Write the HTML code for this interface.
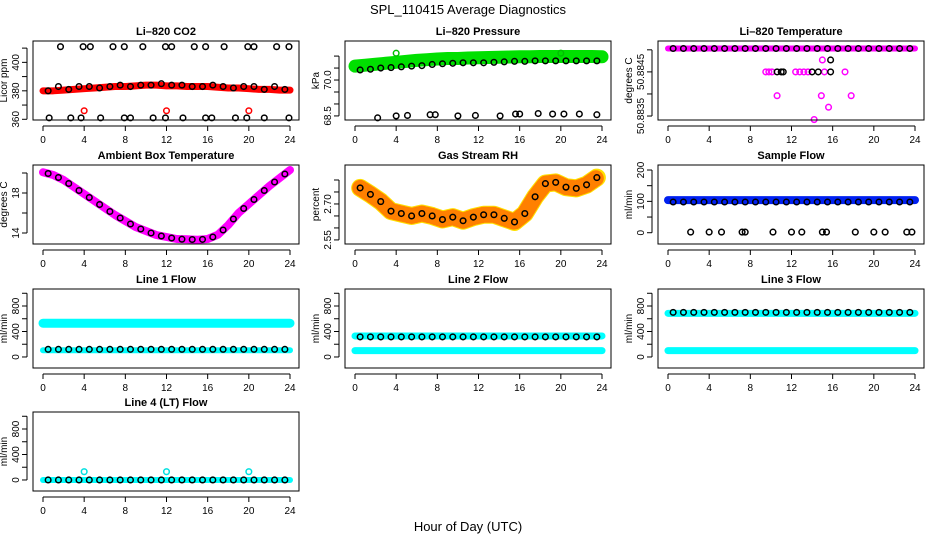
<!DOCTYPE html>
<html><head><meta charset="utf-8"><style>
html,body{margin:0;padding:0;background:#fff}
svg{display:block;font-family:"Liberation Sans",Arial,sans-serif}
</style></head><body>
<svg id="chart" width="936" height="540" viewBox="0 0 936 540">
<rect x="0" y="0" width="936" height="540" fill="#fff"/>
<text x="468" y="14" text-anchor="middle" font-size="13">SPL_110415  Average Diagnostics</text>
<text x="468" y="531" text-anchor="middle" font-size="13">Hour of Day (UTC)</text>
</svg>
<script>
// ---- data ----
const hoursBand = [0,1,2,3,4,5,6,7,8,9,10,11,12,13,14,15,16,17,18,19,20,21,22,23,24];
const hoursPts = [0.5,1.5,2.5,3.5,4.5,5.5,6.5,7.5,8.5,9.5,10.5,11.5,12.5,13.5,14.5,15.5,16.5,17.5,18.5,19.5,20.5,21.5,22.5,23.5];
const xTicks = [0,4,8,12,16,20,24];

const co2Band = [380,380,380.5,381,381.5,382,382.5,383,383,383.5,384,384,383.5,383.5,383,383,383,382.5,382,382,381.5,381,381,380.5,380.5];
const co2Pts = [380,383,381,383,383,382,383,384,383,384,384,385,384,384,383,383,384,383,382,383,383,381,383,381];
const co2HighHours = [1.7,3.9,4.6,6.8,7.9,9.7,11.9,12.5,14.7,15.8,17.6,19.9,20.5,22.7,23.9];
const co2HighVal = [411];
const co2LowHours = [0.6,2.7,3.7,5.6,7.9,8.5,10.7,11.9,13.6,15.8,16.4,18.7,19.8,21.5,23.9];
const co2LowVal = [361];
const co2RedHours = [4,12,20];
const co2RedVal = [366];

const presBand = [70.58,70.62,70.66,70.7,70.74,70.78,70.82,70.85,70.88,70.9,70.9,70.92,70.93,70.94,70.95,70.96,70.97,70.97,70.98,70.98,70.98,70.98,70.98,70.98,70.97];
const presPts = [70.42,70.45,70.5,70.52,70.55,70.58,70.6,70.65,70.68,70.7,70.72,70.72,70.72,70.74,70.76,70.78,70.78,70.8,70.8,70.8,70.8,70.8,70.8,70.8];
const presLowHours = [2.2,4,5.1,7.3,7.8,10,11.7,14.1,15.6,16,17.8,19.2,20.3,21.8,23.5];
const presLowVals = [68.42,68.5,68.52,68.55,68.55,68.5,68.52,68.5,68.58,68.58,68.6,68.58,68.58,68.58,68.55];
const presGreenHours = [4,20];
const presGreenVals = [71.12,71.12];

const tempTop = [50.88503];
const tempMagHours = [9.5,9.8,10.1,12.4,12.8,13.2,13.6,15.2,17.2,15,10.6,14.9,17.8,15.6,14.2];
const tempMagVals = [50.8845,50.8845,50.8845,50.8845,50.8845,50.8845,50.8845,50.8845,50.8845,50.88477,50.88396,50.88396,50.88396,50.8837,50.88342];
const tempBlkHours = [10.6,11,11.2,14,14.6,15.8,15.8];
const tempBlkVals = [50.8845,50.8845,50.8845,50.8845,50.8845,50.8845,50.88477];

const ambBand = [20.07,19.8,19.3,18.6,17.9,17.2,16.5,15.8,15.2,14.6,14.2,13.8,13.6,13.4,13.37,13.33,13.4,13.83,14.8,16,16.9,17.8,18.7,19.5,20.3];
const ambPts = [19.95,19.55,18.95,18.25,17.55,16.85,16.15,15.5,14.9,14.4,14.0,13.7,13.5,13.38,13.35,13.36,13.6,14.3,15.4,16.45,17.35,18.25,19.1,19.9];

const rhPts = [2.767,2.74,2.71,2.67,2.66,2.65,2.66,2.65,2.635,2.645,2.63,2.645,2.655,2.655,2.64,2.625,2.66,2.73,2.785,2.79,2.77,2.765,2.78,2.81];

const sampleBand = [104];
const samplePts = [98];
const sampleZeroHours = [2.2,4,5.2,7.2,7.5,10.2,12,13,15,15.4,18.2,20,21.1,23.2,23.7];
const sampleZeroVal = [2];

const line1Cyan = [530];
const line1CyanLow = [105];
const line1Black = [120];
const line2Cyan = [330];
const line2CyanLow = [100];
const line2Black = [315];
const line3Cyan = [685];
const line3CyanLow = [100];
const line3Black = [700];
const line4Cyan = [0];
const line4Black = [0];
const line4SpikeHours = [4,12,20];
const line4SpikeVal = [130];

// ---- helpers ----
const NS = "http://www.w3.org/2000/svg";
const svg = document.getElementById('chart');
const COLS = [33,345,658], ROWS = [41,165,289,412], PW = 266, PH = 79;
function mk(tag, parent){ const e=document.createElementNS(NS,tag); parent.appendChild(e); return e; }

function panel(col,row,title,yMin,yMax,ticks,labels,ylab,name){
  const L=COLS[col], T=ROWS[row], R=L+PW, B=T+PH;
  const g=mk('g',svg);
  
  
  const x=h=>L+10+h*(PW-19)/24;
  const y=v=>T+(yMax-v)/(yMax-yMin)*PH;
  const marks=mk('g',g);
  
  
  const box=mk('rect',g);
  box.setAttribute('x',L);box.setAttribute('y',T);box.setAttribute('width',PW);box.setAttribute('height',PH);
  box.setAttribute('fill','none');box.setAttribute('stroke','#000');box.setAttribute('stroke-width','1');
  
  
  const t=mk('text',g); t.textContent=title;
  t.setAttribute('x',(L+R)/2);t.setAttribute('y',T-6);t.setAttribute('text-anchor','middle');
  t.setAttribute('font-size','11');t.setAttribute('font-weight','bold');
  
  
  const xa=mk('g',g);
  
  
  const xl=mk('line',xa);
  xl.setAttribute('x1',x(xTicks[0]));xl.setAttribute('x2',x(xTicks[xTicks.length-1]));xl.setAttribute('y1',B+6);xl.setAttribute('y2',B+6);xl.setAttribute('stroke','#000');
  xTicks.forEach(h=>{
    const tk=mk('line',xa);
    tk.setAttribute('x1',x(h));tk.setAttribute('x2',x(h));tk.setAttribute('y1',B+6);tk.setAttribute('y2',B+11);tk.setAttribute('stroke','#000');
    const lb=mk('text',xa); lb.textContent=h;
    lb.setAttribute('x',x(h));lb.setAttribute('y',B+23);lb.setAttribute('text-anchor','middle');lb.setAttribute('font-size','10');
    
    
  });
  const ya=mk('g',g);
  
  
  const yl=mk('line',ya);
  yl.setAttribute('x1',L-6);yl.setAttribute('x2',L-6);yl.setAttribute('y1',y(ticks[0]));yl.setAttribute('y2',y(ticks[ticks.length-1]));yl.setAttribute('stroke','#000');
  ticks.forEach(v=>{
    const tk=mk('line',ya);
    tk.setAttribute('x1',L-11);tk.setAttribute('x2',L-6);tk.setAttribute('y1',y(v));tk.setAttribute('y2',y(v));tk.setAttribute('stroke','#000');
  });
  labels.forEach(v=>{
    const lb=mk('text',ya); lb.textContent=v;
    lb.setAttribute('transform','translate('+(L-14)+','+y(parseFloat(v))+') rotate(-90)');
    lb.setAttribute('text-anchor','middle');lb.setAttribute('font-size','10');
    
    
  });
  const yt=mk('text',ya); yt.textContent=ylab;
  yt.setAttribute('transform','translate('+(L-26)+','+((T+B)/2)+') rotate(-90)');
  yt.setAttribute('text-anchor','middle');yt.setAttribute('font-size','10');
  
  
  return {x,y,g:marks,L,R};
}
function band(p,hs,vs,color,w,nm,dash){
  const pl=mk('polyline',p.g);
  pl.setAttribute('points',hs.map((h,i)=>p.x(h)+','+p.y(vs[i])).join(' '));
  pl.setAttribute('fill','none');pl.setAttribute('stroke',color);pl.setAttribute('stroke-width',w);
  pl.setAttribute('stroke-linejoin','round');pl.setAttribute('stroke-linecap','round');
  if(dash) pl.setAttribute('stroke-dasharray',dash);
  
  
}
function flat(p,v,color,w,nm){
  const ln=mk('line',p.g);
  ln.setAttribute('x1',p.x(0));ln.setAttribute('x2',p.x(24));ln.setAttribute('y1',p.y(v));ln.setAttribute('y2',p.y(v));
  ln.setAttribute('stroke',color);ln.setAttribute('stroke-width',w);ln.setAttribute('stroke-linecap','round');
  
  
}
function pts(p,hs,vs,color,nm){
  hs.forEach((h,i)=>{
    const c=mk('circle',p.g);
    c.setAttribute('cx',p.x(h));c.setAttribute('cy',p.y(vs.length===1?vs[0]:vs[i]));c.setAttribute('r','2.8');
    c.setAttribute('fill','none');c.setAttribute('stroke',color);c.setAttribute('stroke-width','1.5');
    
    
  });
}
function flatPts(p,v,color,nm){ pts(p,hoursPts,hoursPts.map(()=>v),color,nm); }

let p=panel(0,0,'Li\u2013820 CO2',359.5,415,[360,370,380,390,400,410],['360','380','400'],'Licor ppm','co2');
band(p,hoursBand,co2Band,'#f00',7,'co2-red-band');
pts(p,co2RedHours,co2RedVal,'#f00','co2-red-point');
pts(p,hoursPts,co2Pts,'#000','co2-point');
pts(p,co2HighHours,co2HighVal,'#000','co2-high-point');
pts(p,co2LowHours,co2LowVal,'#000','co2-low-point');

p=panel(1,0,'Li\u2013820 Pressure',68.33,71.63,[68.5,69,69.5,70,70.5,71],['68.5','70.0'],'kPa','pressure');
band(p,hoursBand,presBand,'#00e000',13,'pressure-green-band');
pts(p,presGreenHours,presGreenVals,'#00c000','pressure-green-point');
pts(p,hoursPts,presPts,'#000','pressure-point');
pts(p,presLowHours,presLowVals,'#000','pressure-low-point');

p=panel(2,0,'Li\u2013820 Temperature',50.88341,50.8852,[50.8835,50.884,50.8845,50.885],['50.8835','50.8845'],'degrees C','li820-temp');
flat(p,tempTop[0],'#f0f',6,'temp-magenta-band');
flatPts(p,tempTop[0],'#000','temp-point');
pts(p,tempMagHours,tempMagVals,'#f0f','temp-magenta-point');
pts(p,tempBlkHours,tempBlkVals,'#000','temp-black-point');

p=panel(0,1,'Ambient Box Temperature',12.9,20.8,[14,16,18,20],['14','18'],'degrees C','ambient');
band(p,hoursBand,ambBand,'#f0f',8,'ambient-magenta-band');
pts(p,hoursPts,ambPts,'#000','ambient-point');

p=panel(1,1,'Gas Stream RH',2.533,2.8625,[2.55,2.6,2.65,2.7,2.75,2.8],['2.55','2.70'],'percent','rh');
band(p,hoursPts,rhPts,'#ffe000',18,'rh-yellow-band');
band(p,hoursPts,rhPts,'#ff8000',16,'rh-orange-band','1.5 2');
pts(p,hoursPts,rhPts,'#000','rh-point');

p=panel(2,1,'Sample Flow',-36,216,[0,50,100,150,200],['0','100','200'],'ml/min','sample-flow');
flat(p,sampleBand[0],'#0020f0',8,'sample-blue-band');
flatPts(p,samplePts[0],'#000','sample-point');
pts(p,sampleZeroHours,sampleZeroVal,'#000','sample-zero-point');

const fT=[0,200,400,600,800,1000], fL=['0','400','800'];
p=panel(0,2,'Line 1 Flow',-173,1067,fT,fL,'ml/min','line1');
flat(p,line1Cyan[0],'#00ffff',9,'line1-cyan-band');
flat(p,line1CyanLow[0],'#00ffff',6,'line1-cyan-low-band');
flatPts(p,line1Black[0],'#000','line1-point');

p=panel(1,2,'Line 2 Flow',-173,1067,fT,fL,'ml/min','line2');
flat(p,line2Cyan[0],'#00ffff',7,'line2-cyan-band');
flat(p,line2CyanLow[0],'#00ffff',7,'line2-cyan-low-band');
flatPts(p,line2Black[0],'#000','line2-point');

p=panel(2,2,'Line 3 Flow',-173,1067,fT,fL,'ml/min','line3');
flat(p,line3Cyan[0],'#00ffff',7,'line3-cyan-band');
flat(p,line3CyanLow[0],'#00ffff',7,'line3-cyan-low-band');
flatPts(p,line3Black[0],'#000','line3-point');

p=panel(0,3,'Line 4 (LT) Flow',-173,1067,fT,fL,'ml/min','line4');
flat(p,line4Cyan[0],'#00ffff',6,'line4-cyan-band');
pts(p,line4SpikeHours,line4SpikeVal,'#00e0e0','line4-spike-point');
flatPts(p,line4Black[0],'#000','line4-point');
</script>
</body></html>
